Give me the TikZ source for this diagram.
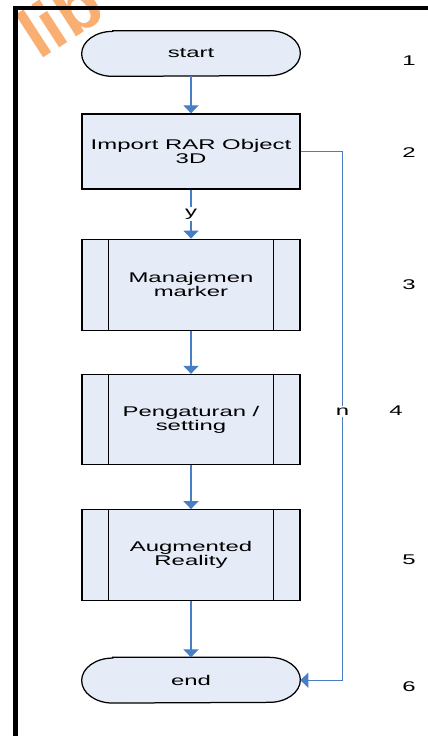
\documentclass[tikz,border=0pt]{standalone}
\usepackage{fontspec}
\newfontfamily\alurfont[FakeStretch=1.7]{Liberation Sans}
\newfontfamily\tandafont{Liberation Sans}
\usetikzlibrary{calc,positioning,arrows.meta,backgrounds}
\definecolor{isi}{HTML}{E6ECF7}
\definecolor{garisbiru}{HTML}{4A7EC4}
\definecolor{oranye}{HTML}{F9AE72}

\begin{document}
\begin{tikzpicture}[
	font=\alurfont\fontsize{8}{8}\selectfont,
	garis/.style={
	draw=garisbiru,line width=0.25mm,-{Triangle[width=3mm,length=1.6mm]},
	},
	proses/.style={
	draw=black,fill=isi,line width=0.25mm,minimum width=4.36cm,align=center,
	},
	terminal/.style={
	minimum width=4.36cm,minimum height=0.9cm,inner sep=0pt,
	}
	]

\useasboundingbox (0,0) rectangle (8.54,-14.72);

% watermark
\node[rotate=33,anchor=base west,inner sep=0pt,text=oranye,font=\tandafont\bfseries\fontsize{40}{40}\selectfont] (tanda) at (0.78,-1.22) {lib};

\node[terminal] (mulai) at (3.82,-1.07) {start};
\node[proses,minimum height=1.5cm,below=0.74cm of mulai] (import) {Import RAR Object\\3D};
\node[proses,minimum height=1.82cm,below=0.98cm of import] (manajemen) {Manajemen\\marker};
\node[proses,minimum height=1.8cm,below=0.86cm of manajemen] (pengaturan) {Pengaturan /\\setting};
\node[proses,minimum height=1.82cm,below=0.88cm of pengaturan] (augmented) {Augmented\\Reality};
\node[terminal,below=1.12cm of augmented] (selesai) {end};

\begin{pgfonlayer}{background}
\foreach \n in {mulai,selesai}
  \draw[fill=isi,line width=0.25mm] ($(\n.north west)+(0.62,0)$) -- ($(\n.north east)+(-0.62,0)$)
    arc[start angle=90,end angle=-90,x radius=0.62,y radius=0.45]
    -- ($(\n.south west)+(0.62,0)$)
    arc[start angle=270,end angle=90,x radius=0.62,y radius=0.45] -- cycle;
\end{pgfonlayer}

% garis tepi proses
\foreach \n in {manajemen,pengaturan,augmented}{
  \draw[line width=0.25mm] ($(\n.north west)+(0.54,0)$) -- ($(\n.south west)+(0.54,0)$);
  \draw[line width=0.25mm] ($(\n.north east)+(-0.54,0)$) -- ($(\n.south east)+(-0.54,0)$);
}

\node (nomor1) at (8.18,-1.22) {1};
\node (nomor2) at (8.18,-3.06) {2};
\node (nomor3) at (8.18,-5.70) {3};
\node (nomor4) at (7.92,-8.22) {4};
\node (nomor5) at (8.18,-11.20) {5};
\node (nomor6) at (8.18,-13.74) {6};

\draw [garis] (mulai) to (import);
\draw [garis] (import) to node[fill=white,inner sep=1pt] (labely) {y} (manajemen);
\draw [garis] (manajemen) to (pengaturan);
\draw [garis] (pengaturan) to (augmented);
\draw [garis] (augmented) to (selesai);
\draw [garis] (import.east) -- ++(0.84,0) |- node[pos=0.246,fill=white,inner sep=1pt] (labeln) {n} (selesai.east);

% bingkai
\draw[line width=0.08cm] (0.31,-14.9) -- (0.31,-0.16) -- (8.7,-0.16);

\end{tikzpicture}
\end{document}
